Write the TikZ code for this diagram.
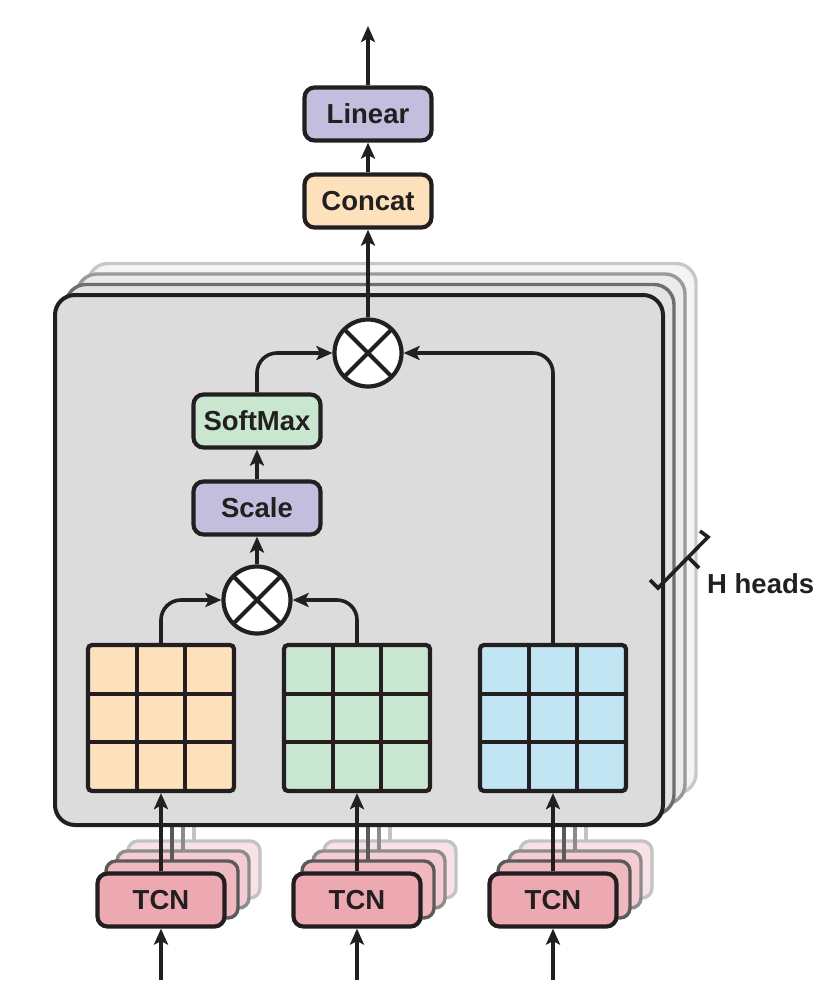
\documentclass[tikz,border=0pt]{standalone}
\usepackage{fontspec}
\setmainfont{Liberation Sans}
\usetikzlibrary{arrows.meta,calc}

\definecolor{ink}{HTML}{231F20}
\definecolor{panelgray}{HTML}{DCDCDC}
\definecolor{lav}{HTML}{C3BEDE}
\definecolor{peach}{HTML}{FDE1BC}
\definecolor{mint}{HTML}{C9E6D0}
\definecolor{sky}{HTML}{C1E5F3}
\definecolor{pink}{HTML}{ECA9B2}
% layers behind (A nearest, C farthest)
\definecolor{headfillA}{HTML}{E3E3E3}
\definecolor{headfillB}{HTML}{EBEBEB}
\definecolor{headfillC}{HTML}{F4F4F4}
\definecolor{headlineA}{HTML}{6E6E6E}
\definecolor{headlineB}{HTML}{9A9A9A}
\definecolor{headlineC}{HTML}{C8C8C8}
\definecolor{tcnfillA}{HTML}{F0B9C0}
\definecolor{tcnfillB}{HTML}{F4CCD1}
\definecolor{tcnfillC}{HTML}{F8E2E5}
\definecolor{tcnlineA}{HTML}{5A5A5A}
\definecolor{tcnlineB}{HTML}{8C8C8C}
\definecolor{tcnlineC}{HTML}{C3C3C3}

\begin{document}
\begin{tikzpicture}[x=1pt, y=-1pt,
	every node/.style={font=\fontsize{27.5}{30}\selectfont\bfseries, text=ink},
	box/.style={draw=ink, line width=4.2pt, rounded corners=10pt, minimum width=127pt, minimum height=53pt, inner sep=0pt},
	arr/.style={draw=ink, line width=3.6pt, -{Stealth[length=16pt, width=14pt, inset=3.5pt]}},
	mul/.style={circle, draw=ink, fill=white, line width=4.2pt, minimum size=67pt, inner sep=0pt,
		path picture={\draw[ink, line width=4pt] (path picture bounding box.north west) -- (path picture bounding box.south east)
			(path picture bounding box.north east) -- (path picture bounding box.south west);}},
	grid/.style={draw=ink, line width=4.2pt, rounded corners=4pt, minimum size=146pt, inner sep=0pt,
		path picture={\foreach \t in {1,2}{
			\draw[ink, line width=4pt] ($(path picture bounding box.north west)!\t/3!(path picture bounding box.north east)$) -- ($(path picture bounding box.south west)!\t/3!(path picture bounding box.south east)$);
			\draw[ink, line width=4pt] ($(path picture bounding box.north west)!\t/3!(path picture bounding box.south west)$) -- ($(path picture bounding box.north east)!\t/3!(path picture bounding box.south east)$);
		}}},
	back/.style={line width=3.4pt, rounded corners=10pt},
	layer/.style={line width=3.4pt, rounded corners=20pt}]
	\useasboundingbox (0,0) rectangle (832,996);

	%TCN copies behind
	\foreach \x in {161, 357, 553}{
		\foreach \k/\c in {3/C, 2/B, 1/A}{
			\draw[tcnline\c, line width=3.4pt] (\x+11*\k, 871-10*\k) -- (\x+11*\k, 825);
			\draw[back, fill=tcnfill\c, draw=tcnline\c] (\x+11*\k-66, 871-10*\k) rectangle +(132, 57);
		}
	}

	%heads
	\foreach \k/\c in {3/C, 2/B, 1/A}{
		\draw[layer, fill=headfill\c, draw=headline\c] (55+11*\k, 295-10.5*\k) rectangle +(608, 530);
	}
	\draw[layer, fill=panelgray, draw=ink, line width=4pt] (55,295) rectangle (663,825);

	%TCN
	\node[box, fill=pink] (tcn1) at (161, 900){TCN};
	\node[box, fill=pink] (tcn2) at (357, 900){TCN};
	\node[box, fill=pink] (tcn3) at (553, 900){TCN};
	\coordinate (in1) at (161, 980);
	\coordinate (in2) at (357, 980);
	\coordinate (in3) at (553, 980);

	%Q, K, V
	\node[grid, fill=peach] (query) at (161, 718){};
	\node[grid, fill=mint] (key) at (357, 718){};
	\node[grid, fill=sky] (value) at (553, 718){};

	\node[mul] (mul1) at (257, 600){};
	\node[box, fill=lav] (scale) at (257, 508){Scale};
	\node[box, fill=mint] (softmax) at (257, 421){SoftMax};
	\node[mul] (mul2) at (368, 353){};
	\node[box, fill=peach] (concat) at (368, 201){Concat};
	\node[box, fill=lav] (linear) at (368, 114){Linear};
	\coordinate (out) at (368, 26);

	\draw[arr] (in1) -- (tcn1);
	\draw[arr] (in2) -- (tcn2);
	\draw[arr] (in3) -- (tcn3);
	\draw[arr] (tcn1) -- (query);
	\draw[arr] (tcn2) -- (key);
	\draw[arr] (tcn3) -- (value);
	\draw[arr, rounded corners=20pt] (query.north) |- (mul1.west);
	\draw[arr, rounded corners=20pt] (key.north) |- (mul1.east);
	\draw[arr] (mul1) -- (scale);
	\draw[arr] (scale) -- (softmax);
	\draw[arr, rounded corners=20pt] (softmax.north) |- (mul2.west);
	\draw[arr, rounded corners=20pt] (value.north) |- (mul2.east);
	\draw[arr] (mul2) -- (concat);
	\draw[arr] (concat) -- (linear);
	\draw[arr] (linear) -- (out);

	%H heads mark
	\draw[ink, line width=3.6pt] (650,580) -- (658,588) -- (708,537) -- (700,531);
	\draw[ink, line width=3.6pt] (688,557) -- (699,568);
	\node[anchor=west, inner sep=0pt] (heads) at (707, 584){H heads};
\end{tikzpicture}
\end{document}
